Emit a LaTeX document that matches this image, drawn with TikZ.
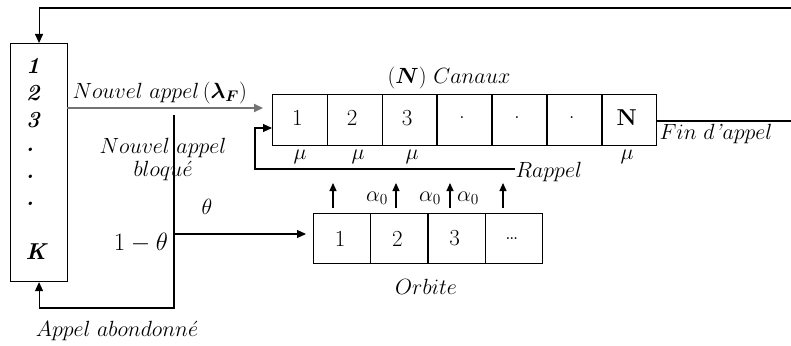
\RequirePackage{fix-cm}
\documentclass[tikz,border=0pt]{standalone}
\usepackage{amsmath,amssymb,bm}
\usetikzlibrary{arrows.meta}
\begin{document}
\begin{tikzpicture}[x=1pt,y=-1pt,
  line width=1.1pt,
  >={Triangle[length=9pt,width=8pt]},
  txt/.style={font=\fontsize{22}{26}\selectfont, inner sep=0pt},
  srclbl/.style={font=\fontsize{23}{26}\selectfont\bfseries\itshape, inner sep=0pt},
  cell/.style={draw, line width=1.1pt, anchor=north west, inner sep=0pt,
    font=\fontsize{23}{26}\selectfont},
  ccell/.style={cell, minimum width=54.6pt, minimum height=51pt},
  ocell/.style={cell, minimum width=57.2pt, minimum height=50pt},
  grayline/.style={line width=2pt, draw=black!55}
]
\useasboundingbox (0,0) rectangle (791,345);

% source (left) box
\node[draw, anchor=north west, minimum width=57pt, minimum height=238pt, inner sep=0pt] (src) at (10,43) {};
\foreach \t/\xx/\yy in {1/33/66,2/33/93,3/33/120,./30/150,./30/177,./30/204,K/36/252}
  \node[srclbl] at (\xx,\yy) {\t};

% channel cells
\foreach \i/\t in {1/1,2/2,3/3,4/.,5/.,6/.,7/\textbf{N}}
  \node[ccell] (c\i) at ({272+54.9*(\i-1)},94) {\hspace*{-5pt}\raisebox{5pt}{\t}};
\node[txt] (canaux) at (449,78) {$(\bm{N})\ Canaux$};

% orbit cells
\foreach \i/\t in {1/1,2/2,3/3,4/\dots}
  \node[ocell] (o\i) at ({313+57.2*(\i-1)},213) {\hspace*{-4pt}\t};
\node[txt] (orb) at (426,287) {$Orbite$};

% coordinates
\coordinate (fb) at (791,8);
\coordinate (na) at (67,108);
\coordinate (bt) at (174,115);
\coordinate (bb) at (174,308);
\coordinate (th) at (174,234);
\coordinate (fin) at (791,121);
\coordinate (rl) at (255,128);

% feedback from right
\draw[->] (fb) -| (src.north);
% new call
\draw[grayline, ->, shorten >=9pt] (na) -- (na -| c1.west);
\node[txt, anchor=base west] (nalbl) at (72,98) {$Nouvel\ appel\,(\bm{\lambda_F})$};
% blocked branch
\draw[->] (bt) -- (bb) -| (src.south);
\draw[->, shorten >=7pt] (th) -- (th -| o1.west);
\node[txt, align=center] (blk) at (163,159) {$Nouvel\ appel$\\[-3pt]$bloqu\acute{e}$};
\node[txt] (theta) at (207,207) {$\theta$};
\node[txt, font=\fontsize{25}{28}\selectfont] (omt) at (141,243) {$1-\theta$};
\node[txt] (aband) at (117,331) {$Appel\ abondonn\acute{e}$};

% end of call
\draw (fin -| c7.east) -- (fin);
\node[txt, anchor=west] (finl) at (659,134) {$Fin\ d$\textit{'}$appel$};

% mu labels
\foreach \xx in {300,358,412,627}
  \node[txt] at (\xx,157) {$\mu$};

% retrial
\node[txt, anchor=west] (rap) at (515,172) {$Rappel$};
\draw[->] (rap.west |- 0,169) -| (rl) -- (rl -| c1.west);

% up arrows from orbit
\foreach \xx [count=\k] in {333,396,450,503}{
  \coordinate (ua\k) at (\xx,208);
  \draw[->, >={Triangle[length=8pt,width=7pt]}] (ua\k) -- ++(0,-25);
}
\foreach \xx in {377,430,468}
  \node[txt] at (\xx,198) {$\alpha_0$};
\end{tikzpicture}
\end{document}
